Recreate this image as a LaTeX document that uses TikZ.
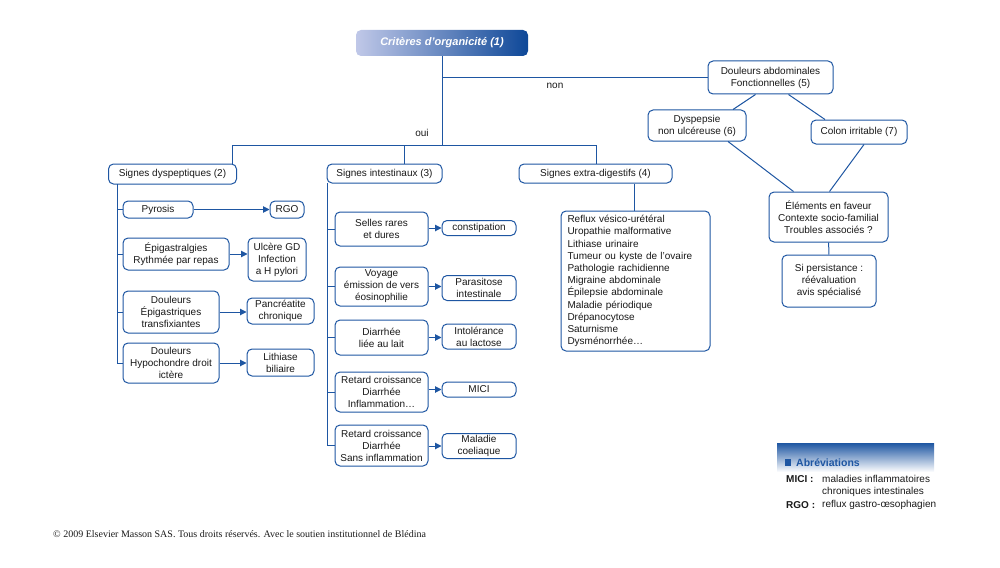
\documentclass[tikz,border=0pt]{standalone}
\usepackage{fontspec}
\setmainfont{Liberation Sans}
\newfontfamily\seriffont{Liberation Serif}
\usetikzlibrary{arrows.meta}
\definecolor{bleu}{RGB}{30,86,162}
\definecolor{bleupale}{RGB}{192,200,232}
\definecolor{bleunuit}{RGB}{14,72,152}
\definecolor{texte}{RGB}{25,25,25}

\begin{document}
\begin{tikzpicture}[x=1pt, y=-1pt, font=\fontsize{10}{12}\selectfont, text=texte,
    bnode/.style={draw=bleu, line width=1pt, rounded corners=5pt, fill=white, align=center, inner sep=1pt},
    taille/.style 2 args={minimum width=#1pt, minimum height=#2pt},
    tnode/.style={rounded corners=5pt, left color=bleupale, right color=bleunuit, text=white, font=\fontsize{11}{13}\selectfont\bfseries\itshape},
    lnode/.style={inner sep=0pt},
    >={Triangle[length=6.5pt,width=6.5pt]}]
    \useasboundingbox (0,0) rectangle (1000,567);

    \node[tnode, taille={172}{26}] (crit) at (442,43) {Critères d’organicité (1)};
    \node[lnode] (non) at (555,86) {non};
    \node[lnode] (oui) at (422,133) {oui};

    % branche fonctionnelle
    \node[bnode, taille={125}{33}] (dfonc) at (770.5,77.5) {Douleurs abdominales\\Fonctionnelles (5)};
    \node[bnode, taille={98}{31}] (dysp) at (697,125.5) {Dyspepsie\\non ulcéreuse (6)};
    \node[bnode, taille={96}{24}] (colon) at (859,132) {Colon irritable (7)};
    \node[bnode, taille={119}{50}] (elem) at (828.5,217) {Éléments en faveur\\Contexte socio-familial\\Troubles associés ?};
    \node[bnode, taille={94}{52}] (pers) at (829,281) {Si persistance :\\réévaluation\\avis spécialisé};

    % signes
    \node[bnode, taille={128}{20}] (sdys) at (172.5,174) {Signes dyspeptiques (2)};
    \node[bnode, taille={115}{19}] (sint) at (384.5,173.5) {Signes intestinaux (3)};
    \node[bnode, taille={153}{19}] (sext) at (595.5,173.5) {Signes extra-digestifs (4)};
    \node[bnode, taille={149}{140}, align=left, text width=136pt, inner xsep=6pt,
          font=\fontsize{10}{12.2}\selectfont] (liste) at (635.5,281)
          {Reflux vésico-urétéral\\Uropathie malformative\\Lithiase urinaire\\Tumeur ou kyste de l’ovaire\\Pathologie rachidienne\\Migraine abdominale\\Épilepsie abdominale\\Maladie périodique\\Drépanocytose\\Saturnisme\\Dysménorrhée…};

    % colonne dyspeptique
    \node[bnode, taille={70}{17}] (pyr) at (158,209.5) {Pyrosis};
    \node[bnode, taille={34}{17}] (rgo) at (287,209.5) {RGO};
    \node[bnode, taille={106}{32}] (epig) at (176,254) {Épigastralgies\\Rythmée par repas};
    \node[bnode, taille={58}{43}] (ulc) at (277,259.5) {Ulcère GD\\Infection\\a H pylori};
    \node[bnode, taille={96}{42}] (dtr) at (171,312) {Douleurs\\Épigastriques\\transfixiantes};
    \node[bnode, taille={67}{26}] (panc) at (280.5,311) {Pancréatite\\chronique};
    \node[bnode, taille={96}{40}] (dhyp) at (171,363) {Douleurs\\Hypochondre droit\\ictère};
    \node[bnode, taille={67}{27}] (lith) at (280.5,362.5) {Lithiase\\biliaire};

    % colonne intestinale
    \node[bnode, taille={93}{34}] (sell) at (381.5,229) {Selles rares\\et dures};
    \node[bnode, taille={74}{15}] (const) at (479,228) {constipation};
    \node[bnode, taille={93}{39}] (voy) at (381.5,286.5) {Voyage\\émission de vers\\éosinophilie};
    \node[bnode, taille={74}{25}] (para) at (479,288) {Parasitose\\intestinale};
    \node[bnode, taille={93}{35}] (diar) at (381.5,337.5) {Diarrhée\\liée au lait};
    \node[bnode, taille={74}{25}] (intol) at (479,336.5) {Intolérance\\au lactose};
    \node[bnode, taille={93}{40}] (ret1) at (381.5,392) {Retard croissance\\Diarrhée\\Inflammation…};
    \node[bnode, taille={74}{15}] (mici) at (479,389.5) {MICI};
    \node[bnode, taille={93}{41}] (ret2) at (381.5,445.5) {Retard croissance\\Diarrhée\\Sans inflammation};
    \node[bnode, taille={74}{25}] (coel) at (479,446) {Maladie\\coeliaque};

    \coordinate (bar) at (442,145);
    \coordinate (b1) at (232,145);
    \coordinate (b2) at (404,145);
    \coordinate (b3) at (596,145);
    \coordinate (spg) at (117,184);
    \coordinate (spm) at (327,183);

   \begin{scope}[draw=bleu, line width=1pt]
    \draw (crit) -- (bar);
    \draw (crit.south |- dfonc.west) -- (dfonc.west);
    \draw (b1) -- (b3);
    \draw (b1) -- (b1 |- sdys.north);
    \draw (b2) -- (b2 |- sint.north);
    \draw (b3) -- (b3 |- sext.north);
    \draw (sext.south -| 634,0) -- (liste.north -| 634,0);
    \draw ([xshift=-15pt]dfonc.south) -- ([xshift=36pt]dysp.north);
    \draw ([xshift=18pt]dfonc.south) -- ([xshift=-34pt]colon.north);
    \draw ([xshift=31pt]dysp.south) -- ([xshift=-35pt]elem.north);
    \draw ([xshift=5pt]colon.south) -- ([xshift=1pt]elem.north);
    \draw (elem) -- (pers);

    \draw (spg) |- (dhyp.west);
    \draw (spg |- pyr.west) -- (pyr.west);
    \draw (spg |- epig.west) -- (epig.west);
    \draw (spg |- dtr.west) -- (dtr.west);
    \draw (spm) |- (ret2.west);
    \draw (spm |- sell.west) -- (sell.west);
    \draw (spm |- voy.west) -- (voy.west);
    \draw (spm |- diar.west) -- (diar.west);
    \draw (spm |- ret1.west) -- (ret1.west);

    \draw[->] (pyr) -- (rgo);
    \draw[->] (epig.east) -- (epig.east -| ulc.west);
    \draw[->] (dtr.east) -- (dtr.east -| panc.west);
    \draw[->] (dhyp.east) -- (dhyp.east -| lith.west);
    \draw[->] (sell.east |- const.west) -- (const.west);
    \draw[->] (voy.east) -- (voy.east -| para.west);
    \draw[->] (diar.east) -- (diar.east -| intol.west);
    \draw[->] (ret1.east |- mici.west) -- (mici.west);
    \draw[->] (ret2.east |- coel.west) -- (coel.west);
   \end{scope}

    % abreviations
    \shade[top color=bleu, middle color=bleu!40, bottom color=white] (777,443) rectangle (934,472);
    \fill[bleu] (785,459) rectangle (791,466);
    \node[lnode, anchor=west, text=bleu, font=\fontsize{10.5}{12}\selectfont\bfseries] (abr) at (796,463) {Abréviations};
    \node[lnode, anchor=west, font=\bfseries] (ab1) at (786,479) {MICI :};
    \node[lnode, anchor=west] (ab1t) at (822,479) {maladies inflammatoires};
    \node[lnode, anchor=west] (ab1u) at (822,492) {chroniques intestinales};
    \node[lnode, anchor=west, font=\bfseries] (ab2) at (786,505) {RGO :};
    \node[lnode, anchor=west] (ab2t) at (822,505) {reflux gastro-œsophagien};

    \node[lnode, anchor=west, font=\seriffont\fontsize{10}{12}\selectfont] (copy) at (53,534) {© 2009 Elsevier Masson SAS. Tous droits réservés. Avec le soutien institutionnel de Blédina};
\end{tikzpicture}
\end{document}
